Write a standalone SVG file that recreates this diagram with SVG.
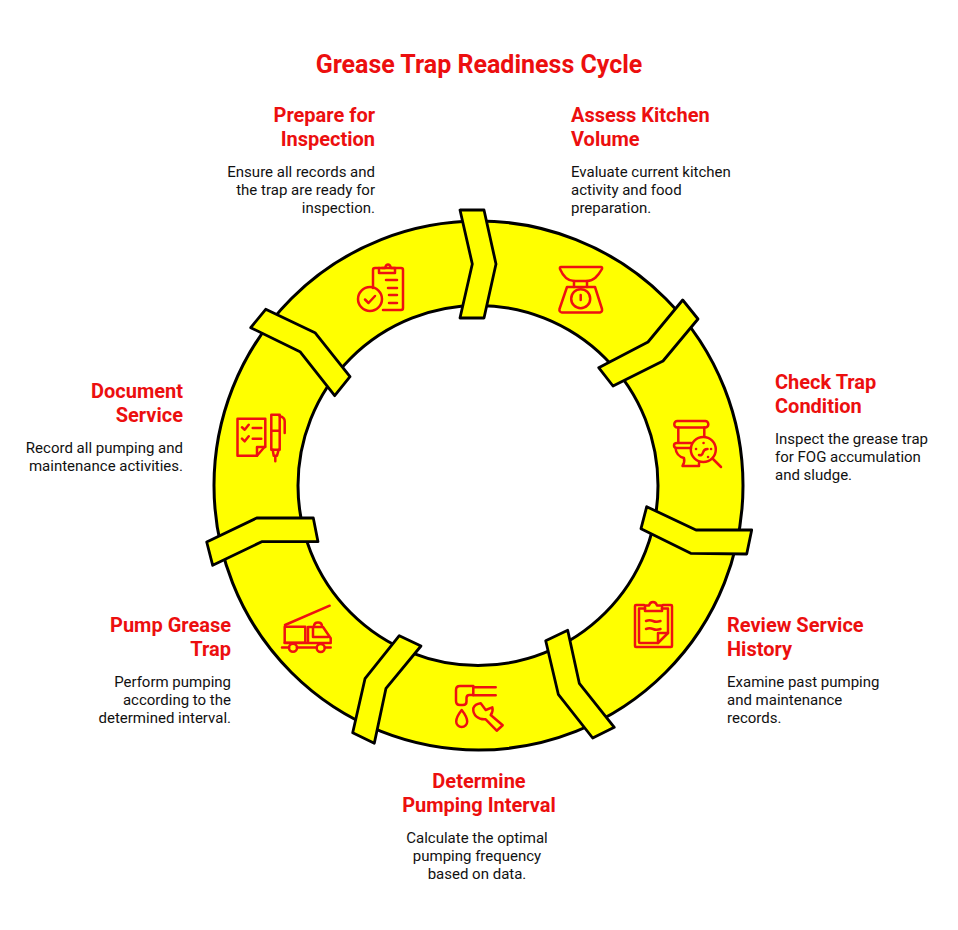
<svg xmlns="http://www.w3.org/2000/svg" width="958" height="930" viewBox="0 0 958 930">
<style>
text{font-family:Roboto,"Liberation Sans",sans-serif}
.t{font-size:25px;font-weight:700;fill:#ec0f0f;text-anchor:middle}
.h{font-size:20px;font-weight:700;fill:#ec0f0f}
.b{font-size:15px;fill:#111}
.e{text-anchor:end}.m{text-anchor:middle}
.ring{fill:#ffff00;stroke:#000;stroke-width:3;fill-rule:evenodd}
.c{fill:#ffff00;stroke:#000;stroke-width:2.8;stroke-linejoin:round}
.i{fill:none;stroke:#ee1111;stroke-width:2.5;stroke-linecap:round;stroke-linejoin:round}
</style>
<rect width="958" height="930" fill="#fff"/>
<text class="t" x="479" y="73">Grease Trap Readiness Cycle</text>
<path class="ring" d="M214,485.500a264.500,264.500 0 1,0 529,0a264.500,264.500 0 1,0 -529,0ZM298,485.500a180,180 0 1,1 360,0a180,180 0 1,1 -360,0Z"/>
<g id="connectors">
<polygon class="c" points="460,210 484,210 496,264 484,318 460,318 472.300,264"/>
<polygon class="c" points="682.700,300 698,319 663,361 613,386 598.700,367.700 648,342"/>
<polygon class="c" points="646.700,506.700 696,530 751.700,530 746.700,554 690.700,553.300 641,528.700"/>
<polygon class="c" points="545.700,640.700 567.700,630.300 579.300,683.300 614.300,727.300 592.700,738 558.300,694.300"/>
<polygon class="c" points="399.300,635.700 421,646 386,688.300 374.300,743.300 352.700,732.700 365,678.700"/>
<polygon class="c" points="206.700,542 256.700,518 313.300,518 318,541.700 261.700,541.700 212.700,565.300"/>
<polygon class="c" points="265.700,309.300 315,332.700 350,376.700 334.700,395.700 300,351.700 250.700,327.700"/>
</g>
<g id="node-prepare">
<text class="h e" x="375" y="122">Prepare for</text><text class="h e" x="375" y="146">Inspection</text>
<text class="b e" x="375" y="177">Ensure all records and</text><text class="b e" x="375" y="195">the trap are ready for</text><text class="b e" x="375" y="213">inspection.</text>
<g class="i"><path d="M373,288V270q0-2 2-2H401q2,0 2,2V308q0,2-2,2H383"/><path d="M379,268v5h16v-5M382,268h3q1-3.500 3-3.500t3,3.500h3"/><path d="M386,280H397M388,288H397M389,295H397M389,303H397"/><circle cx="370" cy="299" r="12"/><path d="M365,299.500l3.500,3.500 6.500,-7"/></g>
</g>
<g id="node-assess">
<text class="h" x="571" y="122">Assess Kitchen</text><text class="h" x="571" y="146">Volume</text>
<text class="b" x="571" y="177">Evaluate current kitchen</text><text class="b" x="571" y="195">activity and food</text><text class="b" x="571" y="213">preparation.</text>
<g class="i"><path d="M561,267H601q1.500,0 1,2C598,276 594,281 587,281H574C567,281 563,276 560,269q-.5-2 1-2Z"/><path d="M574,281v6M587,281v6"/><path d="M567,287H595L602,309q.5,3-2,3.500H562q-3-.5-2.500-3.500Z"/><circle cx="580.700" cy="298.700" r="9.500"/><path d="M580.700,295v5"/></g>
</g>
<g id="node-check">
<text class="h" x="775" y="389">Check Trap</text><text class="h" x="775" y="413">Condition</text>
<text class="b" x="775" y="444">Inspect the grease trap</text><text class="b" x="775" y="462">for FOG accumulation</text><text class="b" x="775" y="480">and sludge.</text>
<g class="i"><rect x="674.300" y="421" width="34" height="6.500" rx="3"/><path d="M678.300,427.500V442M704.300,427.500V436"/><path d="M691,443H677q-3,0-3,2.500t3,2.500H691"/><path d="M675.500,448C676,454 680,457 684,458q1,4-1.500,8H699V463"/><circle cx="703.300" cy="449.500" r="12.500"/><path d="M713,459l8,8"/><path d="M699,455q3,1 4-2.500t4.500-3.500"/><path d="M703.500,443h.1M696,449h.1M711,449h.1M708,457h.1"/></g>
</g>
<g id="node-review">
<text class="h" x="727" y="632">Review Service</text><text class="h" x="727" y="656">History</text>
<text class="b" x="727" y="687">Examine past pumping</text><text class="b" x="727" y="705">and maintenance</text><text class="b" x="727" y="723">records.</text>
<g class="i"><path d="M644,605H636q-1,0-1,1V646q0,1 1,1H671q1,0 1-1V606q0-1-1-1H663"/><path d="M645,608.500H639V642q0,1 1,1H658L668,633V608.500H662"/><path d="M645,611V605.500h4q1-3.500 4-3.500t4,3.500h5V611Z"/><path d="M658,643V633H668"/><path d="M646,621q3.500-1.500 7,0t7.500,0M646,629q3.500-1.500 7,0t7.500,0"/></g>
</g>
<g id="node-determine">
<text class="h m" x="479" y="788">Determine</text><text class="h m" x="479" y="812">Pumping Interval</text>
<text class="b m" x="477" y="843">Calculate the optimal</text><text class="b m" x="477" y="861">pumping frequency</text><text class="b m" x="477" y="879">based on data.</text>
<g class="i"><path d="M473.300,686H460q-4,0-4,4V701q0,4 4,4H463q3.500,0 3.500-3.500V698q0-3 3-3H473.300Z"/><path d="M473.300,687.300H495.700M473.300,695.300H495.700"/><path d="M461.700,710q-5.500,7-5.500,11.500a5.500,5.500 0 0,0 11,0q0-4.500-5.500-11.500Z"/><path d="M480.700,703.300L485.700,710 492.300,707.300Q493.500,711 490.700,715L502.700,725.300 496.700,730.700 485.700,719.300C478.300,720 472.700,715 473.300,708.300Q475,704 480.700,703.300Z"/></g>
</g>
<g id="node-pump">
<text class="h e" x="231" y="632">Pump Grease</text><text class="h e" x="231" y="656">Trap</text>
<text class="b e" x="231" y="687">Perform pumping</text><text class="b e" x="231" y="705">according to the</text><text class="b e" x="231" y="723">determined interval.</text>
<g class="i"><path d="M285,625L329.700,605.700"/><path d="M284.700,626.700H305.300V642.700H284.700Z"/><path d="M308,627.300V642.700M308,627H323L330.700,638.300V643H284.700"/><path d="M313,627v10H328"/><path d="M314,626.500q0-4 4-4t4,4"/><path d="M282,647.500H289M297,647.500H316.500M325,647.500H330.700"/><circle cx="293" cy="647.700" r="4"/><circle cx="320.700" cy="648" r="4"/></g>
</g>
<g id="node-document">
<text class="h e" x="183" y="398">Document</text><text class="h e" x="183" y="422">Service</text>
<text class="b e" x="183" y="453">Record all pumping and</text><text class="b e" x="183" y="471">maintenance activities.</text>
<g class="i"><path d="M237.500,418.700H265.300V446L257,455.700H237.500Z"/><path d="M257,455.700V447H265.300"/><path d="M242,427.300l2.700,2.400 4-5M252.700,428H261.300M242,438.700l2.700,2.600 4-5M252.700,438.700H261.300"/><path d="M271.300,414.700H279.700V449.700H271.300ZM271.300,430.700H279.700"/><path d="M279.700,416.300q5,1 5,5V433"/><path d="M272.700,449.700L273.700,455.700H277L278.700,449.700M275.300,455.700V461.300"/></g>
</g>
</svg>
